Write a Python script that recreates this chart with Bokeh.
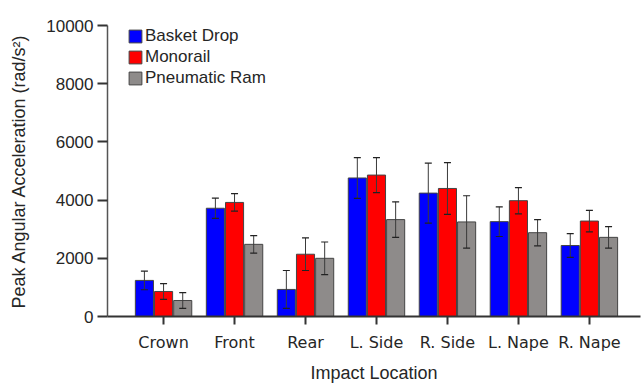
from bokeh.plotting import figure
from bokeh.models import (ColumnDataSource, Whisker, TeeHead, FixedTicker,
                          Legend, LegendItem, Range1d)
from bokeh.embed import file_html
from bokeh.resources import INLINE

locations = ["Crown", "Front", "Rear", "L. Side", "R. Side", "L. Nape", "R. Nape"]
series = ["Basket Drop", "Monorail", "Pneumatic Ram"]
colors = ["#0000FF", "#FF0000", "#8E8B8A"]

basket_mean = [1240, 3720, 930, 4760, 4240, 3260, 2440]
basket_err = [320, 350, 650, 700, 1030, 510, 410]
monorail_mean = [860, 3920, 2140, 4860, 4400, 3980, 3280]
monorail_err = [270, 300, 560, 600, 890, 450, 370]
ram_mean = [550, 2480, 2000, 3330, 3250, 2880, 2720]
ram_err = [270, 300, 560, 610, 900, 450, 370]

y_ticks = [0, 2000, 4000, 6000, 8000, 10000]

means = [basket_mean, monorail_mean, ram_mean]
errs = [basket_err, monorail_err, ram_err]
offsets = [-0.27, 0.0, 0.27]
bar_w = 0.255

p = figure(width=642, height=385, output_backend="svg", toolbar_location=None,
           x_range=Range1d(-0.79, 6.72), y_range=Range1d(0, 10000),
           min_border_left=107, min_border_right=2, min_border_top=25,
           min_border_bottom=69)
p.outline_line_color = None
p.grid.visible = False
p.background_fill_color = "white"

renderers = []
for name, col, m, e, off in zip(series, colors, means, errs, offsets):
    xs = [i + off for i in range(len(locations))]
    src = ColumnDataSource(dict(x=xs, top=m,
                                upper=[a + b for a, b in zip(m, e)],
                                lower=[a - b for a, b in zip(m, e)]))
    r = p.vbar(x="x", top="top", bottom=0, width=bar_w, source=src,
               fill_color=col, line_color="#444444", line_width=1)
    renderers.append(r)
    w = Whisker(base="x", upper="upper", lower="lower", source=src,
                line_color="#3a3a3a", line_width=1, level="overlay",
                upper_head=TeeHead(size=7, line_color="#222222", line_width=1.2),
                lower_head=TeeHead(size=7, line_color="#222222", line_width=1.2))
    p.add_layout(w)

# axes
p.xaxis.ticker = FixedTicker(ticks=list(range(len(locations))))
p.xaxis.major_label_overrides = {i: lab for i, lab in enumerate(locations)}
p.xaxis.minor_tick_line_color = None
p.xaxis.major_tick_in = 0
p.xaxis.major_tick_out = 8
p.xaxis.axis_line_width = 2
p.xaxis.major_tick_line_width = 2
p.xaxis.axis_line_color = "#333333"
p.xaxis.major_tick_line_color = "#333333"
p.xaxis.major_label_text_font = "DejaVu Sans"
p.xaxis.major_label_text_font_size = "16px"
p.xaxis.major_label_text_color = "#262626"
p.xaxis.major_label_standoff = 8
p.xaxis.axis_label = "Impact Location"
p.xaxis.axis_label_text_font = "Liberation Sans"
p.xaxis.axis_label_text_font_size = "18px"
p.xaxis.axis_label_text_font_style = "normal"
p.xaxis.axis_label_text_color = "#262626"
p.xaxis.axis_label_standoff = 8

p.yaxis.ticker = FixedTicker(ticks=y_ticks)
p.yaxis.minor_tick_line_color = None
p.yaxis.major_tick_in = 0
p.yaxis.major_tick_out = 10
p.yaxis.axis_line_width = 1.5
p.yaxis.major_tick_line_width = 2
p.yaxis.axis_line_color = "#555555"
p.yaxis.major_tick_line_color = "#333333"
p.yaxis.major_label_text_font = "Liberation Sans"
p.yaxis.major_label_text_font_size = "17px"
p.yaxis.major_label_text_color = "#262626"
p.yaxis.major_label_standoff = 4
p.yaxis.axis_label = "Peak Angular Acceleration (rad/s\u00b2)"
p.yaxis.axis_label_text_font = "Liberation Sans"
p.yaxis.axis_label_text_font_size = "18px"
p.yaxis.axis_label_text_font_style = "normal"
p.yaxis.axis_label_text_color = "#262626"
p.yaxis.axis_label_standoff = 14

legend = Legend(items=[LegendItem(label=s, renderers=[r]) for s, r in zip(series, renderers)],
                location=(20, 228), orientation="vertical",
                glyph_width=16, glyph_height=16, spacing=1, padding=0, margin=0,
                label_standoff=2, label_text_font="Liberation Sans",
                label_text_font_size="17px", label_text_color="#262626",
                border_line_color=None, background_fill_alpha=0)
p.add_layout(legend, "center")

open("out.html", "w").write(file_html(p, INLINE))
